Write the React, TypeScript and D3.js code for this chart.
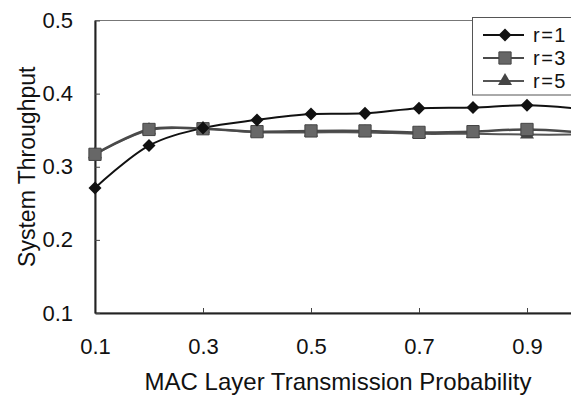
import React, { useRef, useEffect } from 'react';
import * as d3 from 'd3';

const probs = [0.1, 0.2, 0.3, 0.4, 0.5, 0.6, 0.7, 0.8, 0.9, 1.0];
const r1 = [0.271, 0.329, 0.353, 0.364, 0.372, 0.373, 0.380, 0.381, 0.384, 0.379];
const r3 = [0.317, 0.351, 0.352, 0.348, 0.349, 0.349, 0.347, 0.348, 0.351, 0.347];
const r5 = [0.317, 0.350, 0.352, 0.347, 0.347, 0.347, 0.345, 0.345, 0.344, 0.344];
const xTicks = [0.1, 0.3, 0.5, 0.7, 0.9];
const yTicks = [0.1, 0.2, 0.3, 0.4, 0.5];
const seriesNames = ['r=1', 'r=3', 'r=5'];

const font = '"Liberation Sans", Arial, sans-serif';

const App: React.FC = () => {
  const ref = useRef<SVGSVGElement | null>(null);

  useEffect(() => {
    if (!ref.current) return;
    const svg = d3.select(ref.current);
    svg.selectAll('*').remove();

    const x = d3.scaleLinear().domain([0.1, 1.0]).range([95, 581]);
    const y = d3.scaleLinear().domain([0.1, 0.5]).range([313, 20.5]);

    // frame
    svg.append('rect')
      .attr('x', x(0.1)).attr('y', y(0.5))
      .attr('width', x(1.0) - x(0.1)).attr('height', y(0.1) - y(0.5))
      .attr('fill', 'none').attr('stroke', '#777').attr('stroke-width', 1);

    const gx = svg.append('g').attr('transform', `translate(0,${y(0.1)})`)
      .call(d3.axisBottom(x).tickValues(xTicks).tickSizeInner(-5).tickSizeOuter(0).tickPadding(25).tickFormat(d3.format('.1f')));
    gx.select('.domain').attr('stroke', '#222').attr('stroke-width', 2);
    gx.selectAll('.tick line').attr('stroke', '#444');
    gx.selectAll('text').attr('font-family', font).attr('font-size', 22).attr('fill', '#111');

    const gy = svg.append('g').attr('transform', `translate(${x(0.1)},0)`)
      .call(d3.axisLeft(y).tickValues(yTicks).tickSizeInner(-5).tickSizeOuter(0).tickPadding(22).tickFormat(d3.format('.1f')));
    gy.select('.domain').attr('stroke', '#222').attr('stroke-width', 2);
    gy.selectAll('.tick line').attr('stroke', '#444');
    gy.selectAll('text').attr('font-family', font).attr('font-size', 22).attr('fill', '#111');

    svg.append('text')
      .attr('x', 338).attr('y', 390)
      .attr('text-anchor', 'middle')
      .attr('font-family', font).attr('font-size', 24).attr('fill', '#111')
      .text('MAC Layer Transmission Probability');

    svg.append('text')
      .attr('transform', `translate(35,${(y(0.1) + y(0.5)) / 2}) rotate(-90)`)
      .attr('text-anchor', 'middle')
      .attr('font-family', font).attr('font-size', 23).attr('fill', '#111')
      .text('System Throughput');

    const line = d3.line<number>()
      .x((d, i) => x(probs[i]))
      .y(d => y(d))
      .curve(d3.curveCatmullRom.alpha(0.5));

    const diamond = d3.symbol(d3.symbolSquare, 85)();
    const square = d3.symbol(d3.symbolSquare, 150)();
    const triangle = d3.symbol(d3.symbolTriangle, 85)();

    const series = [
      { name: seriesNames[2], values: r5, stroke: '#555', fill: '#444', sym: triangle, rot: 0, width: 2 },
      { name: seriesNames[1], values: r3, stroke: '#4a4a4a', fill: '#676767', sym: square, rot: 0, width: 2.5 },
      { name: seriesNames[0], values: r1, stroke: '#111', fill: '#111', sym: diamond, rot: 45, width: 2 },
    ];

    series.forEach(s => {
      svg.append('path').datum(s.values)
        .attr('fill', 'none').attr('stroke', s.stroke).attr('stroke-width', s.width)
        .attr('d', line);
    });
    series.forEach(s => {
      svg.append('g').selectAll('path').data(s.values).join('path')
        .attr('d', s.sym)
        .attr('transform', (d, i) => `translate(${x(probs[i])},${y(d)}) rotate(${s.rot})`)
        .attr('fill', s.fill)
        .attr('stroke', s.name === 'r=3' ? '#444' : 'none');
    });

    // legend
    const lg = svg.append('g');
    lg.append('rect').attr('x', 472.5).attr('y', 17.5).attr('width', 110).attr('height', 77.5)
      .attr('fill', '#fff').attr('stroke', '#555').attr('stroke-width', 1);
    const legendItems = [series[2], series[1], series[0]];
    const ly = [35, 58, 81];
    legendItems.forEach((s, i) => {
      lg.append('line').attr('x1', 483).attr('x2', 524).attr('y1', ly[i]).attr('y2', ly[i])
        .attr('stroke', s.stroke).attr('stroke-width', 2);
      lg.append('path').attr('d', s.sym).attr('transform', `translate(505,${ly[i]}) rotate(${s.rot})`)
        .attr('fill', s.fill).attr('stroke', s.name === 'r=3' ? '#444' : 'none');
      lg.append('text').attr('x', 533).attr('y', ly[i]).attr('dy', '0.35em')
        .attr('font-family', font).attr('font-size', 20).attr('letter-spacing', 1.5).attr('fill', '#111')
        .text(s.name);
    });
  }, []);

  return (
    <svg ref={ref} width={571} height={397}
      style={{ position: 'absolute', left: 0, top: 0, background: '#fff' }} />
  );
};

export default App;
